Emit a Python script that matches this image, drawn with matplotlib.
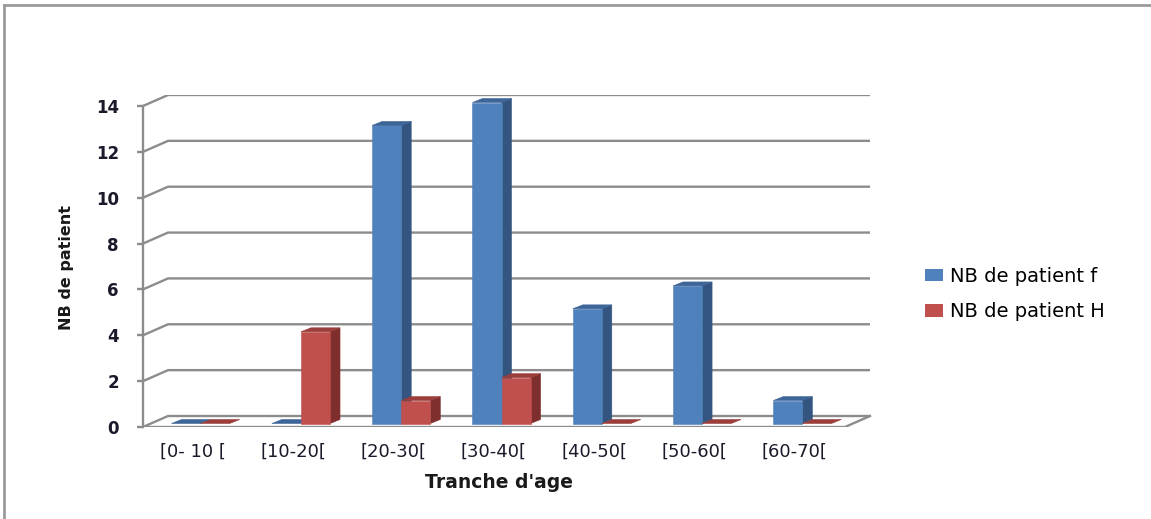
import numpy as np
import matplotlib
matplotlib.use("Agg")
import matplotlib.pyplot as plt
from matplotlib.patches import Polygon, Patch
from matplotlib.lines import Line2D

# age groups and patient counts
categories = ["[0- 10 [", "[10-20[", "[20-30[", "[30-40[", "[40-50[", "[50-60[", "[60-70["]
nb_f = [0, 0, 13, 14, 5, 6, 1]
nb_h = [0, 4, 1, 2, 0, 0, 0]
yticks = [0, 2, 4, 6, 8, 10, 12, 14]

W, H = 1151, 519
fig = plt.figure(figsize=(W / 100, H / 100), dpi=100)
fig.patch.set_facecolor("white")

# frame around the chart area (only top and left edges show)
fig.add_artist(Line2D([4 / W, 4 / W], [0, 1 - 5 / H], transform=fig.transFigure,
                      color="#9a9a9a", lw=2))
fig.add_artist(Line2D([4 / W, 1], [1 - 5 / H, 1 - 5 / H], transform=fig.transFigure,
                      color="#9a9a9a", lw=2))

# plot area: front plane from x=143px, y=427px
left, right, top, bottom = 143, 872, 95, 427
ax = fig.add_axes([left / W, 1 - bottom / H, (right - left) / W, (bottom - top) / H])

px_x = 702 / 7.0            # pixels per category
px_y = 321 / 14.0           # pixels per unit of y
DX, DY = 25 / px_x, 11 / px_y   # wall depth
BDX, BDY = 10 / px_x, 4 / px_y  # bar depth
OX, OY = (DX - BDX) / 2, (DY - BDY) / 2
BW = 0.29

ax.set_xlim(0, (right - left) / px_x)
ax.set_ylim(0, (bottom - top) / px_y)

grid_c = "#8c8c8c"
n = len(categories)
for v in yticks:
    ax.plot([0, DX, n + DX], [v, v + DY, v + DY], color=grid_c, lw=1.7,
            solid_capstyle="butt", zorder=1)
# floor front and right edges
ax.plot([0, n, n + DX], [0, 0, DY], color=grid_c, lw=1.7, zorder=1)


def face(pts, color):
    ax.add_patch(Polygon(pts, closed=True, facecolor=color, edgecolor=color,
                         lw=0.4, zorder=3))


def bar3d(x0, h, front, side, topc):
    y0 = OY
    x1 = x0 + BW
    y1 = y0 + h
    if h > 0:
        face([(x1, y0), (x1 + BDX, y0 + BDY), (x1 + BDX, y1 + BDY), (x1, y1)], side)
        face([(x0, y0), (x1, y0), (x1, y1), (x0, y1)], front)
    face([(x0, y1), (x1, y1), (x1 + BDX, y1 + BDY), (x0 + BDX, y1 + BDY)], topc)


blue = ("#4f81bd", "#33557f", "#3e6598")
red = ("#c0504d", "#7e2f2d", "#9b3e3b")
for i in range(n):
    c = i + 0.5
    bar3d(c - BW + OX, nb_f[i], *blue)
    bar3d(c + OX, nb_h[i], *red)

# axes styling
for s in ["top", "right", "bottom"]:
    ax.spines[s].set_visible(False)
ax.spines["left"].set_bounds(0, 14)
ax.spines["left"].set_color(grid_c)
ax.spines["left"].set_linewidth(1.7)
ax.set_yticks(yticks)
ax.set_yticklabels([str(v) for v in yticks], fontsize=12, fontweight="bold", color="#1a1a2a")
ax.tick_params(axis="y", length=4.3, width=1.7, color=grid_c, pad=13)
ax.set_xticks(np.arange(n) + 0.5)
ax.set_xticklabels(categories, fontsize=13, color="#1a1a2a")
ax.tick_params(axis="x", length=0, pad=11)
ax.patch.set_alpha(0)

ax.set_xlabel("Tranche d'age", fontsize=13.5, fontweight="bold", color="#1a1a1a")
ax.xaxis.set_label_coords((499 - left) / (right - left), -(482 - bottom) / (bottom - top))
ax.xaxis.label.set_va("center")
ax.set_ylabel("NB de patient", fontsize=11.5, fontweight="bold", color="#1a1a1a")
ax.yaxis.set_label_coords(-(left - 67) / (right - left), (bottom - 267) / (bottom - top))
ax.yaxis.label.set_va("center")

handles = [Patch(facecolor=blue[0]), Patch(facecolor=red[0])]
fig.legend(handles, ["NB de patient f", "NB de patient H"], loc="center left",
           bbox_to_anchor=(925 / W, 1 - 294 / H), frameon=False, fontsize=14,
           borderpad=0, borderaxespad=0,
           handlelength=0.9, handleheight=0.6, handletextpad=0.4, labelspacing=0.85)

fig.savefig("out.png", dpi=100, facecolor="white")
